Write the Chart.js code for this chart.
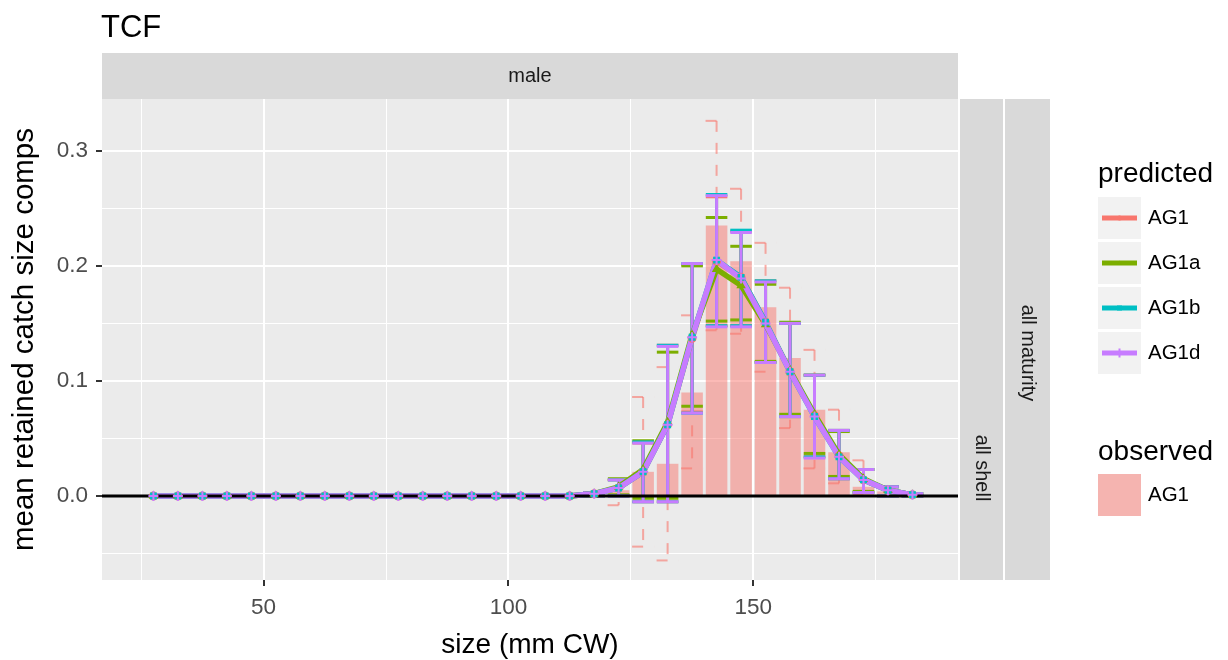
<!DOCTYPE html>
<html>
<head>
<meta charset="utf-8">
<script src="https://cdn.jsdelivr.net/npm/chart.js@4.4.1/dist/chart.umd.min.js"></script>
<style>
  html, body { margin: 0; padding: 0; background: #fff; }
</style>
</head>
<body>
<canvas id="grafico" width="1228" height="660"></canvas>
<script>
// size bins (mm CW)
const sizeBins = [27.5, 32.5, 37.5, 42.5, 47.5, 52.5, 57.5, 62.5, 67.5, 72.5, 77.5, 82.5, 87.5, 92.5, 97.5, 102.5,
  107.5, 112.5, 117.5, 122.5, 127.5, 132.5, 137.5, 142.5, 147.5, 152.5, 157.5, 162.5, 167.5, 172.5, 177.5, 182.5];

// observed AG1
const obsAG1 = [0, 0, 0, 0, 0, 0, 0, 0, 0, 0, 0, 0, 0, 0, 0, 0, 0, 0,
  0, 0.005, 0.021, 0.028, 0.090, 0.235, 0.204, 0.164, 0.120, 0.075, 0.038, 0.008, 0.004, 0.001];
const obsHi = [null, null, null, null, null, null, null, null, null, null, null, null, null, null, null, null, null, null,
  null, 0.014, 0.086, 0.112, 0.157, 0.326, 0.267, 0.220, 0.181, 0.127, 0.075, 0.031, 0.008, null];
const obsLo = [null, null, null, null, null, null, null, null, null, null, null, null, null, null, null, null, null, null,
  null, -0.008, -0.044, -0.056, 0.024, 0.144, 0.141, 0.108, 0.059, 0.024, 0.011, 0.001, 0.000, null];

// predicted
const predAG1 = [0, 0, 0, 0, 0, 0, 0, 0, 0, 0, 0, 0, 0, 0, 0, 0, 0, 0,
  0.002, 0.007, 0.021, 0.062, 0.137, 0.204, 0.190, 0.151, 0.108, 0.070, 0.035, 0.014, 0.005, 0.001];
const predAG1a = [0, 0, 0, 0, 0, 0, 0, 0, 0, 0, 0, 0, 0, 0, 0, 0, 0, 0,
  0.002, 0.008, 0.023, 0.064, 0.140, 0.197, 0.183, 0.149, 0.109, 0.071, 0.036, 0.015, 0.005, 0.001];
const predAG1b = [0, 0, 0, 0, 0, 0, 0, 0, 0, 0, 0, 0, 0, 0, 0, 0, 0, 0,
  0.002, 0.007, 0.021, 0.062, 0.138, 0.205, 0.190, 0.151, 0.108, 0.069, 0.034, 0.014, 0.005, 0.001];
const predAG1d = [0, 0, 0, 0, 0, 0, 0, 0, 0, 0, 0, 0, 0, 0, 0, 0, 0, 0,
  0.002, 0.007, 0.021, 0.062, 0.138, 0.205, 0.189, 0.150, 0.108, 0.069, 0.034, 0.014, 0.005, 0.001];

const nulls18 = [null, null, null, null, null, null, null, null, null, null, null, null, null, null, null, null, null, null];
const hiAG1 = nulls18.concat([0.003, 0.014, 0.046, 0.131, 0.201, 0.260, 0.230, 0.187, 0.150, 0.105, 0.057, 0.023, 0.008, 0.002]);
const loAG1 = nulls18.concat([0.000, 0.000, -0.005, -0.005, 0.073, 0.148, 0.148, 0.116, 0.069, 0.034, 0.015, 0.003, 0.000, 0.000]);
const hiAG1a = nulls18.concat([0.003, 0.015, 0.048, 0.125, 0.200, 0.242, 0.217, 0.184, 0.151, 0.105, 0.056, 0.023, 0.008, 0.002]);
const loAG1a = nulls18.concat([0.000, 0.001, -0.002, -0.002, 0.078, 0.152, 0.153, 0.117, 0.071, 0.037, 0.017, 0.004, 0.000, 0.000]);
const hiAG1b = nulls18.concat([0.003, 0.014, 0.047, 0.131, 0.202, 0.262, 0.231, 0.187, 0.150, 0.105, 0.057, 0.023, 0.008, 0.002]);
const loAG1b = nulls18.concat([0.000, 0.000, -0.005, -0.005, 0.072, 0.148, 0.148, 0.116, 0.069, 0.034, 0.015, 0.003, 0.000, 0.000]);
const hiAG1d = nulls18.concat([0.003, 0.014, 0.046, 0.130, 0.202, 0.261, 0.229, 0.186, 0.150, 0.105, 0.057, 0.023, 0.008, 0.002]);
const loAG1d = nulls18.concat([0.000, 0.000, -0.005, -0.005, 0.072, 0.147, 0.147, 0.116, 0.069, 0.033, 0.015, 0.003, 0.000, 0.000]);

// axes
const xTicks = [25, 50, 75, 100, 125, 150, 175];
const yTicks = [-0.05, 0, 0.05, 0.1, 0.15, 0.2, 0.25, 0.3];
const xMin = 17, xMax = 191.8;
const yMin = -0.073, yMax = 0.345;

const fam = "'Liberation Sans', Arial, Helvetica, sans-serif";
Chart.defaults.font.family = fam;

const modelos = [
  { nombre: "AG1", media: predAG1, hi: hiAG1, lo: loAG1, color: "#F8766D", forma: "circle" },
  { nombre: "AG1a", media: predAG1a, hi: hiAG1a, lo: loAG1a, color: "#7CAE00", forma: "triangle" },
  { nombre: "AG1b", media: predAG1b, hi: hiAG1b, lo: loAG1b, color: "#00BFC4", forma: "rect" },
  { nombre: "AG1d", media: predAG1d, hi: hiAG1d, lo: loAG1d, color: "#C77CFF", forma: "cross" },
];
const obsFill = "rgba(248, 118, 109, 0.5)";
const obsErr = "rgba(248, 118, 109, 0.6)";

const puntos = (arr) => sizeBins.map((x, i) => ({ x: x, y: arr[i] }));

// error bars (half width in mm)
function barraError(ctx, xs, ys, x, lo, hi, half) {
  const px = xs.getPixelForValue(x);
  const pl = xs.getPixelForValue(x - half);
  const pr = xs.getPixelForValue(x + half);
  const yt = ys.getPixelForValue(hi);
  const yb = ys.getPixelForValue(lo);
  ctx.beginPath(); ctx.moveTo(pl, yt); ctx.lineTo(pr, yt); ctx.stroke();
  ctx.beginPath(); ctx.moveTo(px, yt); ctx.lineTo(px, yb); ctx.stroke();
  ctx.beginPath(); ctx.moveTo(pl, yb); ctx.lineTo(pr, yb); ctx.stroke();
}

const errorBars = {
  id: "errorBars",
  afterDatasetDraw(chart, args) {
    if (args.index !== 0) return;
    const ctx = chart.ctx, a = chart.chartArea;
    const xs = chart.scales.x, ys = chart.scales.y;
    ctx.save();
    ctx.beginPath(); ctx.rect(a.left, a.top, a.right - a.left, a.bottom - a.top); ctx.clip();
    // observed (dashed)
    ctx.strokeStyle = obsErr; ctx.lineWidth = 2; ctx.setLineDash([11, 11]);
    sizeBins.forEach((x, i) => {
      if (obsHi[i] != null) barraError(ctx, xs, ys, x, obsLo[i], obsHi[i], 2.25);
    });
    ctx.setLineDash([]);
    // predicted
    modelos.forEach((m) => {
      ctx.strokeStyle = m.color; ctx.lineWidth = 3;
      sizeBins.forEach((x, i) => {
        if (m.hi[i] != null) barraError(ctx, xs, ys, x, m.lo[i], m.hi[i], 2.2);
      });
    });
    ctx.restore();
  },
};

function dibujarForma(ctx, forma, x, y, r, color) {
  ctx.fillStyle = color; ctx.strokeStyle = color; ctx.lineWidth = 2;
  ctx.beginPath();
  if (forma === "circle") { ctx.arc(x, y, r, 0, Math.PI * 2); ctx.fill(); }
  else if (forma === "triangle") { ctx.moveTo(x, y - r); ctx.lineTo(x + r, y + r * 0.8); ctx.lineTo(x - r, y + r * 0.8); ctx.closePath(); ctx.fill(); }
  else if (forma === "rect") { ctx.fillRect(x - r, y - r, 2 * r, 2 * r); }
  else { ctx.moveTo(x, y - r - 2); ctx.lineTo(x, y + r + 2); ctx.moveTo(x - r - 1, y); ctx.lineTo(x + r + 1, y); ctx.stroke(); }
}

const decoracion = {
  id: "decoracion",
  beforeDraw(chart) {
    const ctx = chart.ctx, a = chart.chartArea;
    ctx.save();
    ctx.fillStyle = "#FFFFFF"; ctx.fillRect(0, 0, chart.width, chart.height);
    ctx.fillStyle = "#EBEBEB"; ctx.fillRect(a.left, a.top, a.right - a.left, a.bottom - a.top);
    ctx.restore();
  },
  afterDraw(chart) {
    const ctx = chart.ctx, a = chart.chartArea;
    ctx.save();
    // title
    ctx.fillStyle = "#000"; ctx.font = "31px " + fam; ctx.textAlign = "left"; ctx.textBaseline = "alphabetic";
    ctx.fillText("TCF", a.left - 1, 37);
    // strips
    ctx.fillStyle = "#D9D9D9";
    ctx.fillRect(a.left, 53, a.right - a.left, a.top - 53);
    ctx.fillRect(a.right + 2, a.top, 43, a.bottom - a.top);
    ctx.fillRect(a.right + 47, a.top, 45, a.bottom - a.top);
    ctx.fillStyle = "#1A1A1A"; ctx.font = "20px " + fam; ctx.textAlign = "center"; ctx.textBaseline = "middle";
    ctx.fillText("male", (a.left + a.right) / 2, 76);
    ctx.save(); ctx.translate(a.right + 23.5, 468); ctx.rotate(Math.PI / 2); ctx.fillText("all shell", 0, 0); ctx.restore();
    ctx.save(); ctx.translate(a.right + 69.5, 353); ctx.rotate(Math.PI / 2); ctx.fillText("all maturity", 0, 0); ctx.restore();
    // axis titles
    ctx.fillStyle = "#000"; ctx.font = "28px " + fam; ctx.textBaseline = "alphabetic";
    ctx.fillText("size (mm CW)", (a.left + a.right) / 2, 653);
    ctx.font = "29.5px " + fam;
    ctx.save(); ctx.translate(33, (a.top + a.bottom) / 2); ctx.rotate(-Math.PI / 2); ctx.fillText("mean retained catch size comps", 0, 0); ctx.restore();
    // legend: predicted
    ctx.textAlign = "left"; ctx.font = "28px " + fam;
    ctx.fillText("predicted", 1098, 182);
    modelos.forEach((m, i) => {
      const top = 197 + i * 45, cy = top + 21;
      ctx.fillStyle = "#F2F2F2"; ctx.fillRect(1098, top, 43, 42);
      ctx.strokeStyle = m.color; ctx.lineWidth = 5;
      ctx.beginPath(); ctx.moveTo(1102, cy); ctx.lineTo(1137, cy); ctx.stroke();
      dibujarForma(ctx, m.forma, 1119.5, cy, 2.5, m.color);
      ctx.fillStyle = "#000"; ctx.font = "20.5px " + fam; ctx.textBaseline = "middle";
      ctx.fillText(m.nombre, 1148, cy);
      ctx.font = "28px " + fam; ctx.textBaseline = "alphabetic";
    });
    // legend: observed
    ctx.fillStyle = "#000";
    ctx.fillText("observed", 1098, 460);
    ctx.fillStyle = "#F2F2F2"; ctx.fillRect(1098, 474, 43, 42);
    ctx.fillStyle = obsFill; ctx.fillRect(1098, 474, 43, 42);
    ctx.fillStyle = "#000"; ctx.font = "20.5px " + fam; ctx.textBaseline = "middle";
    ctx.fillText("AG1", 1148, 495);
    ctx.restore();
  },
};

const esMayorX = (v) => v % 50 === 0;
const esMayorY = (v) => Math.abs(v * 10 - Math.round(v * 10)) < 1e-6;

const datasets = [
  {
    type: "bar", label: "observed AG1", data: puntos(obsAG1),
    backgroundColor: obsFill, borderWidth: 0, barPercentage: 0.88, categoryPercentage: 1.0, order: 20,
  },
];
modelos.forEach((m, i) => {
  datasets.push({
    type: "line", label: m.nombre, data: puntos(m.media), borderColor: m.color, borderWidth: 5.5,
    pointRadius: 0, tension: 0, fill: false, order: 15 - i,
  });
});
datasets.push({
  type: "line", label: "zero", data: [{ x: xMin, y: 0 }, { x: xMax, y: 0 }],
  borderColor: "#000", borderWidth: 3, pointRadius: 0, order: 8,
});
modelos.forEach((m, i) => {
  datasets.push({
    type: "line", label: m.nombre + " pts", data: puntos(m.media), showLine: false,
    pointStyle: m.forma, pointRadius: m.forma === "cross" ? 5 : 3.5,
    pointBackgroundColor: m.color, pointBorderColor: m.color, pointBorderWidth: 2, order: 5 - i,
  });
});

new Chart(document.getElementById("grafico").getContext("2d"), {
  type: "bar",
  data: { datasets: datasets },
  options: {
    responsive: false,
    animation: false,
    devicePixelRatio: 1,
    layout: { padding: { left: 32, right: 270, top: 99, bottom: 30 } },
    plugins: { legend: { display: false }, tooltip: { enabled: false } },
    scales: {
      x: {
        type: "linear", min: xMin, max: xMax, offset: false,
        afterBuildTicks: (s) => { s.ticks = xTicks.map((v) => ({ value: v })); },
        afterFit: (s) => { s.height = 50; },
        grid: {
          offset: false, color: "#FFFFFF",
          lineWidth: (c) => (c.tick && esMayorX(c.tick.value) ? 2 : 1),
          tickColor: (c) => (c.tick && esMayorX(c.tick.value) ? "#333333" : "rgba(0,0,0,0)"),
          tickLength: 6, tickWidth: 2,
        },
        border: { display: false },
        ticks: {
          autoSkip: false, maxRotation: 0, padding: 8, color: "#4D4D4D", font: { size: 22.5 },
          callback: (v) => (esMayorX(v) ? String(v) : ""),
        },
      },
      y: {
        type: "linear", min: yMin, max: yMax,
        afterBuildTicks: (s) => { s.ticks = yTicks.map((v) => ({ value: v })); },
        afterFit: (s) => { s.width = 70; },
        grid: {
          color: "#FFFFFF",
          lineWidth: (c) => (c.tick && esMayorY(c.tick.value) ? 2 : 1),
          tickColor: (c) => (c.tick && esMayorY(c.tick.value) ? "#333333" : "rgba(0,0,0,0)"),
          tickLength: 6, tickWidth: 2,
        },
        border: { display: false },
        ticks: {
          autoSkip: false, padding: 8, color: "#4D4D4D", font: { size: 22.5 },
          callback: (v) => (esMayorY(v) ? v.toFixed(1) : ""),
        },
      },
    },
  },
  plugins: [decoracion, errorBars],
});
</script>
</body>
</html>
